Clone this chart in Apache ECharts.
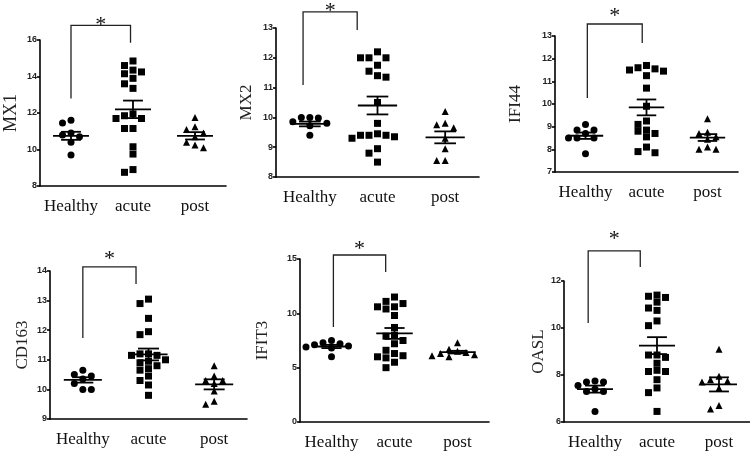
<!DOCTYPE html>
<html><head><meta charset="utf-8">
<script src="https://cdn.jsdelivr.net/npm/echarts@6/dist/echarts.min.js"></script>
<style>html,body{margin:0;padding:0;background:#fff}#c{width:750px;height:458px}</style>
</head><body><div id="c"></div>
<script>
// ---- categories ----
const groups = ['Healthy', 'acute', 'post'];

// ---- MX1 ----
const mx1Healthy = [11.6, 11.45, 10.9, 10.8, 10.7, 10.4, 9.7];
const mx1Acute = [14.85, 14.6, 14.35, 14.25, 14.15, 13.9, 13.6, 13.35, 11.95, 11.85, 11.7, 11.7, 11.15, 11.15, 10.15, 9.75, 8.9, 8.75];
const mx1Post = [11.75, 11.25, 11.1, 10.9, 10.7, 10.4, 10.25, 10.1];
const mx1Mean = [10.75, 12.2, 10.75];
const mx1Sem = [0.22, 0.48, 0.2];

// ---- MX2 ----
const mx2Healthy = [10.0, 10.0, 9.98, 9.85, 9.8, 9.72, 9.4];
const mx2Acute = [12.2, 12.0, 12.0, 12.0, 11.75, 11.55, 11.4, 11.35, 10.5, 9.8, 9.45, 9.4, 9.4, 9.4, 9.35, 9.3, 8.95, 8.8, 8.5];
const mx2Post = [10.2, 9.8, 9.75, 9.65, 9.3, 8.95, 8.55, 8.55];
const mx2Mean = [9.78, 10.4, 9.33];
const mx2Sem = [0.08, 0.3, 0.2];

// ---- IFI44 ----
const ifi44Healthy = [9.1, 8.85, 8.85, 8.7, 8.5, 8.5, 8.5, 7.8];
const ifi44Acute = [11.7, 11.6, 11.55, 11.5, 11.45, 11.25, 10.7, 9.9, 9.25, 9.1, 8.85, 8.8, 8.7, 8.55, 8.1, 7.9, 7.85];
const ifi44Post = [9.35, 8.75, 8.7, 8.55, 8.45, 8.1, 8.0, 8.0];
const ifi44Mean = [8.6, 9.85, 8.52];
const ifi44Sem = [0.14, 0.35, 0.15];

// ---- CD163 ----
const cd163Healthy = [10.65, 10.5, 10.45, 10.35, 10.2, 10.0, 10.0];
const cd163Acute = [13.05, 12.9, 12.4, 11.95, 11.85, 11.2, 11.2, 11.15, 11.15, 11.0, 10.95, 10.9, 10.8, 10.7, 10.65, 10.45, 10.3, 10.15, 9.8];
const cd163Post = [10.8, 10.45, 10.3, 10.3, 10.2, 9.95, 9.6, 9.5];
const cd163Mean = [10.32, 11.18, 10.17];
const cd163Sem = [0.09, 0.2, 0.17];

// ---- IFIT3 ----
const ifit3Healthy = [7.5, 7.3, 7.2, 7.1, 7.0, 6.9, 6.8, 6.0];
const ifit3Acute = [11.5, 11.1, 10.9, 10.6, 10.6, 10.4, 9.8, 8.7, 8.0, 7.9, 7.5, 7.2, 6.6, 6.3, 6.1, 6.0, 5.9, 5.5, 5.0];
const ifit3Post = [7.3, 6.7, 6.5, 6.4, 6.3, 6.2, 6.1, 6.0];
const ifit3Mean = [6.95, 8.15, 6.43];
const ifit3Sem = [0.15, 0.5, 0.12];

// ---- OASL ----
const oaslHealthy = [7.75, 7.7, 7.7, 7.55, 7.4, 7.3, 7.3, 6.45];
const oaslAcute = [11.4, 11.35, 11.3, 11.1, 10.85, 10.75, 10.3, 10.1, 8.85, 8.85, 8.75, 8.5, 8.2, 8.15, 8.15, 7.8, 7.45, 7.25, 6.45];
const oaslPost = [9.1, 7.95, 7.8, 7.75, 7.7, 7.45, 6.7, 6.55];
const oaslMean = [7.4, 9.25, 7.6];
const oaslSem = [0.15, 0.36, 0.3];

// ---- y-axis ticks [min, max, interval] ----
const mx1Ticks = [8, 16, 2];
const mx2Ticks = [8, 13, 1];
const ifi44Ticks = [7, 13, 1];
const cd163Ticks = [9, 14, 1];
const ifit3Ticks = [0, 15, 5];
const oaslTicks = [6, 12, 2];

// ---- panel layout (positions/styles) ----
const panels = [
  {name: 'MX1', sets: [mx1Healthy, mx1Acute, mx1Post], mean: mx1Mean, sem: mx1Sem, ticks: mx1Ticks,
   g: {left: 40, top: 40, width: 186, height: 146}, nameGap: 20, nameSize: 18, starGap: 3,
   br: {x1: 0, x2: 0.96, top: 16.8, lb: 12.8, rb: 15.85}},
  {name: 'MX2', sets: [mx2Healthy, mx2Acute, mx2Post], mean: mx2Mean, sem: mx2Sem, ticks: mx2Ticks,
   g: {left: 276, top: 28, width: 203, height: 149}, nameGap: 21, nameSize: 17, starGap: 4,
   br: {x1: -0.1, x2: 0.7, top: 13.54, lb: 11.09, rb: 12.93}},
  {name: 'IFI44', sets: [ifi44Healthy, ifi44Acute, ifi44Post], mean: ifi44Mean, sem: ifi44Sem, ticks: ifi44Ticks,
   g: {left: 555, top: 36, width: 183, height: 136}, nameGap: 31, nameSize: 17, starGap: 11,
   br: {x1: 0.03, x2: 0.93, top: 13.53, lb: 10.27, rb: 12.69}},
  {name: 'CD163', sets: [cd163Healthy, cd163Acute, cd163Post], mean: cd163Mean, sem: cd163Sem, ticks: cd163Ticks,
   g: {left: 50, top: 271, width: 197, height: 148}, nameGap: 19, nameSize: 17, starGap: 11,
   br: {x1: 0, x2: 0.81, top: 14.14, lb: 11.74, rb: 13.56}},
  {name: 'IFIT3', sets: [ifit3Healthy, ifit3Acute, ifit3Post], mean: ifit3Mean, sem: ifit3Sem, ticks: ifit3Ticks,
   g: {left: 300, top: 259, width: 189, height: 163}, nameGap: 29, nameSize: 17, starGap: 9,
   br: {x1: 0.03, x2: 0.86, top: 15.37, lb: 8.74, rb: 13.8}},
  {name: 'OASL', sets: [oaslHealthy, oaslAcute, oaslPost], mean: oaslMean, sem: oaslSem, ticks: oaslTicks,
   g: {left: 564, top: 281, width: 186, height: 141}, nameGap: 16, nameSize: 17, starGap: 15,
   br: {x1: -0.11, x2: 0.73, top: 13.28, lb: 10.21, rb: 12.6}}
];

const symbols = ['circle', 'rect', 'triangle'];
const SYM = 7, STEP = 8.5;

// deterministic beeswarm offsets (pixel) so overlapping points spread sideways
function swarm(vals, pxPerUnit) {
  const order = vals.map((v, i) => i).sort((a, b) => vals[b] - vals[a]);
  const placed = [], off = new Array(vals.length).fill(0);
  for (const i of order) {
    const y = vals[i] * pxPerUnit;
    for (let k = 0; k < 30; k++) {
      const cand = k === 0 ? 0 : (k % 2 ? -Math.ceil(k / 2) : Math.ceil(k / 2)) * STEP;
      if (placed.every(p => Math.abs(p.y - y) >= SYM * 0.95 || Math.abs(p.x - cand) >= STEP * 0.95)) {
        off[i] = cand; placed.push({x: cand, y}); break;
      }
    }
  }
  return off;
}

const grid = [], xAxis = [], yAxis = [], series = [];
const LW = 1.6;
panels.forEach((p, pi) => {
  grid.push(Object.assign({containLabel: false}, p.g));
  xAxis.push({
    type: 'category', gridIndex: pi, data: groups, boundaryGap: true,
    axisLine: {lineStyle: {color: '#000', width: LW}},
    axisTick: {alignWithLabel: true, length: 4, lineStyle: {color: '#000', width: LW}},
    axisLabel: {interval: 0, hideOverlap: false, color: '#111', fontFamily: 'Liberation Serif', fontSize: 17, margin: 12},
    splitLine: {show: false}
  });
  yAxis.push({
    type: 'value', gridIndex: pi, min: p.ticks[0], max: p.ticks[1], interval: p.ticks[2],
    name: p.name, nameLocation: 'middle', nameGap: p.nameGap, nameRotate: 90,
    nameTextStyle: {color: '#222', fontFamily: 'Liberation Serif', fontSize: p.nameSize},
    axisLine: {show: true, lineStyle: {color: '#000', width: LW}},
    axisTick: {show: true, length: 3, lineStyle: {color: '#000', width: LW}},
    axisLabel: {color: '#222', fontFamily: 'Liberation Sans', fontWeight: 'bold', fontSize: 9, margin: 3},
    splitLine: {show: false}
  });
  const ppu = p.g.height / (p.ticks[1] - p.ticks[0]);
  p.sets.forEach((vals, gi) => {
    const off = swarm(vals, ppu);
    series.push({
      type: 'scatter', xAxisIndex: pi, yAxisIndex: pi, symbol: symbols[gi], symbolSize: SYM,
      itemStyle: {color: '#000', opacity: 1}, z: 3, silent: true,
      data: vals.map((v, i) => ({value: [gi, v], symbolOffset: [off[i], 0]}))
    });
  });
  // mean ± SEM
  series.push({
    type: 'custom', xAxisIndex: pi, yAxisIndex: pi, z: 4, silent: true,
    data: p.mean.map((m, i) => [i, m, p.sem[i]]),
    encode: {x: 0, y: 1},
    renderItem: (params, api) => {
      const x = api.value(0), m = api.value(1), s = api.value(2);
      const c = api.coord([x, m]);
      const bw = api.size([1, 0])[0];
      const t = api.coord([x, m + s])[1], b = api.coord([x, m - s])[1];
      const st = {stroke: '#000', lineWidth: 1.8};
      return {type: 'group', children: [
        {type: 'line', shape: {x1: c[0] - 0.29 * bw, y1: c[1], x2: c[0] + 0.29 * bw, y2: c[1]}, style: st},
        {type: 'line', shape: {x1: c[0] - 0.16 * bw, y1: t, x2: c[0] + 0.16 * bw, y2: t}, style: st},
        {type: 'line', shape: {x1: c[0] - 0.16 * bw, y1: b, x2: c[0] + 0.16 * bw, y2: b}, style: st},
        {type: 'line', shape: {x1: c[0], y1: t, x2: c[0], y2: b}, style: st}
      ]};
    }
  });
  // significance bracket
  const br = p.br;
  series.push({
    type: 'custom', xAxisIndex: pi, yAxisIndex: pi, z: 5, silent: true, clip: false,
    data: [[0, br.top]],
    encode: {x: 0, y: 1},
    renderItem: (params, api) => {
      const c0 = api.coord([0, br.top]), c1 = api.coord([1, br.top]);
      const dx = c1[0] - c0[0];
      const xa = c0[0] + br.x1 * dx, xb = c0[0] + br.x2 * dx;
      const yt = c0[1], yl = api.coord([0, br.lb])[1], yr = api.coord([0, br.rb])[1];
      return {type: 'group', children: [
        {type: 'polyline', shape: {points: [[xa, yl], [xa, yt], [xb, yt], [xb, yr]]},
         style: {stroke: '#222', lineWidth: 1.3, fill: null}},
        {type: 'text', style: {text: '*', x: (xa + xb) / 2, y: yt - p.starGap + 3, align: 'center', verticalAlign: 'middle',
          font: 'normal 22px "Liberation Serif"', fill: '#111'}}
      ]};
    }
  });
});

const chart = echarts.init(document.getElementById('c'), null, {renderer: 'canvas'});
chart.setOption({animation: false, backgroundColor: '#fff', grid, xAxis, yAxis, series});
</script></body></html>
